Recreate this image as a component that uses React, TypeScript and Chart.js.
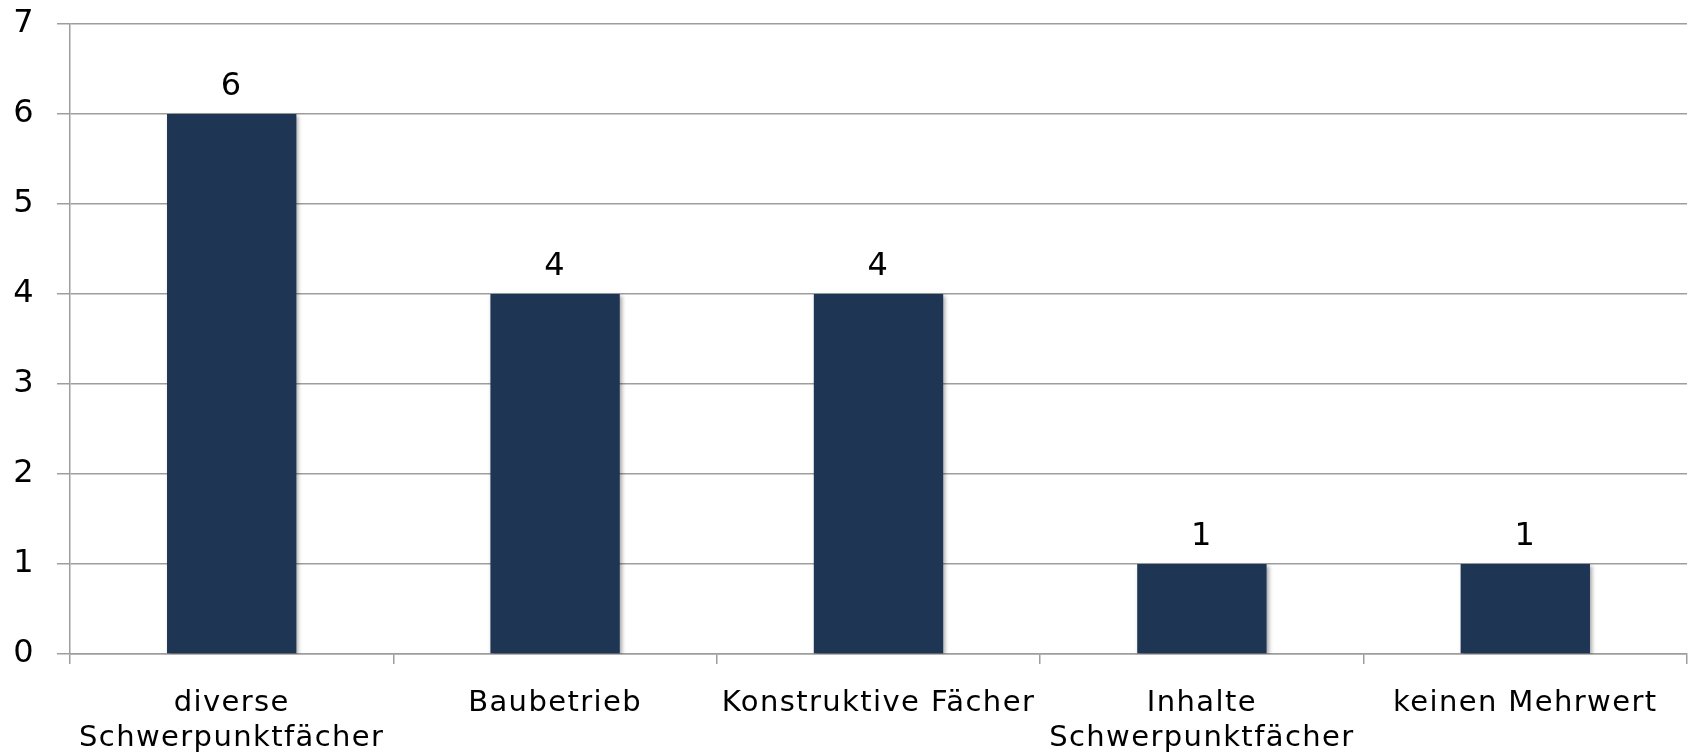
import React, { useEffect, useRef } from "react";
import { Chart, registerables } from "chart.js";

Chart.register(...registerables);

const categories: (string | string[])[] = [
  ["diverse", "Schwerpunktfächer"],
  "Baubetrieb",
  "Konstruktive Fächer",
  ["Inhalte", "Schwerpunktfächer"],
  "keinen Mehrwert",
];
const values: number[] = [6, 4, 4, 1, 1];
const yTicks: number[] = [0, 1, 2, 3, 4, 5, 6, 7];

const FONT = "'DejaVu Sans', sans-serif";

const letterSpacing = {
  id: "letterSpacing",
  beforeDraw(chart: any) {
    (chart.ctx as any).letterSpacing = "1.4px";
  },
};

const valueLabels = {
  id: "valueLabels",
  afterDatasetsDraw(chart: any) {
    const ctx = chart.ctx;
    const meta = chart.getDatasetMeta(0);
    ctx.save();
    ctx.font = `32px ${FONT}`;
    ctx.fillStyle = "#000";
    ctx.textAlign = "center";
    ctx.textBaseline = "alphabetic";
    meta.data.forEach((bar: any, i: number) => {
      ctx.fillText(String(values[i]), bar.x, bar.y - 19);
    });
    ctx.restore();
  },
};

const barShadow = {
  id: "barShadow",
  beforeDatasetsDraw(chart: any) {
    const ctx = chart.ctx;
    ctx.save();
    ctx.shadowColor = "rgba(0,0,0,0.35)";
    ctx.shadowBlur = 4;
    ctx.shadowOffsetX = 2;
    ctx.shadowOffsetY = 2;
  },
  afterDatasetsDraw(chart: any) {
    chart.ctx.restore();
  },
};

export default function App() {
  const ref = useRef<HTMLCanvasElement | null>(null);
  useEffect(() => {
    document.body.style.margin = "0";
    const chart = new Chart(ref.current!, {
      type: "bar",
      data: {
        labels: categories,
        datasets: [
          {
            data: values,
            backgroundColor: "#1e3553",
            barPercentage: 0.8,
            categoryPercentage: 0.5,
          },
        ],
      },
      options: {
        animation: false,
        responsive: false,
        maintainAspectRatio: false,
        layout: { padding: { top: 24, right: 5, left: 0, bottom: 0 } },
        plugins: { legend: { display: false }, tooltip: { enabled: false } },
        scales: {
          x: {
            grid: {
              display: true,
              drawOnChartArea: false,
              drawTicks: true,
              tickLength: 10,
              color: "#9e9e9e",
              offset: true,
              lineWidth: 1.5,
            },
            border: { display: true, color: "#9e9e9e", width: 1.5 },
            ticks: {
              color: "#000",
              font: { family: FONT, size: 29, lineHeight: 1.2 },
              padding: 22,
              maxRotation: 0,
              autoSkip: false,
            },
            afterFit(scale: any) {
              scale.height = 99;
              scale.paddingLeft = 0;
              scale.paddingRight = 0;
            },
          },
          y: {
            min: 0,
            max: 7,
            afterBuildTicks(scale: any) {
              scale.ticks = yTicks.map((v) => ({ value: v }));
            },
            grid: {
              color: "#9e9e9e",
              lineWidth: 1.5,
              tickLength: 13,
            },
            border: { display: true, color: "#9e9e9e", width: 1.5 },
            ticks: {
              color: "#000",
              font: { family: FONT, size: 32 },
              padding: 22,
            },
            afterFit(scale: any) {
              scale.width = 70;
              scale.paddingTop = 0;
              scale.paddingBottom = 0;
            },
          },
        },
      },
      plugins: [letterSpacing, barShadow, valueLabels],
    });
    return () => chart.destroy();
  }, []);
  return (
    <div style={{ position: "absolute", left: 0, top: 0, width: 1692, height: 753 }}>
      <canvas ref={ref} width={1692} height={753} style={{ display: "block" }} />
    </div>
  );
}
